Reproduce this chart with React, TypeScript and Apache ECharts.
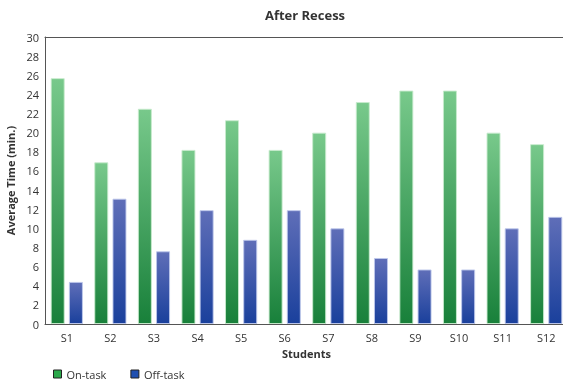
import React, { useEffect, useRef } from "react";
import * as echarts from "echarts";

const categories = ["S1", "S2", "S3", "S4", "S5", "S6", "S7", "S8", "S9", "S10", "S11", "S12"];
const onTask = [25.7, 16.9, 22.5, 18.2, 21.3, 18.2, 20.0, 23.2, 24.4, 24.4, 20.0, 18.8];
const offTask = [4.4, 13.1, 7.6, 11.9, 8.8, 11.9, 10.0, 6.9, 5.7, 5.7, 10.0, 11.2];
const yTicks = { min: 0, max: 30, interval: 2 };

const FONT = "'Open Sans', 'Noto Sans', sans-serif";

export default function App() {
  const ref = useRef<HTMLDivElement>(null);
  useEffect(() => {
    if (!ref.current) return;
    const chart = echarts.init(ref.current, null, { renderer: "svg" });
    const greenGrad = new echarts.graphic.LinearGradient(0, 0, 0, 1, [
      { offset: 0, color: "#78c98b" },
      { offset: 1, color: "#18803a" },
    ]);
    const blueGrad = new echarts.graphic.LinearGradient(0, 0, 0, 1, [
      { offset: 0, color: "#5f6eb8" },
      { offset: 1, color: "#1a409c" },
    ]);
    chart.setOption({
      animation: false,
      textStyle: { fontFamily: FONT },
      title: {
        text: "After Recess",
        left: 305,
        textAlign: "center",
        top: 8,
        padding: 0,
        textStyle: { fontSize: 13, fontWeight: "bold", color: "#333", fontFamily: FONT },
      },
      grid: {
        left: 45,
        top: 37,
        width: 523,
        height: 287,
        outerBoundsMode: "none",
        containLabel: false,
        show: false,
      },
      legend: {
        left: 53,
        top: 368,
        padding: 0,
        itemWidth: 8,
        itemHeight: 8,
        itemGap: 24,
        textStyle: { fontSize: 11, lineHeight: 12, color: "#333", fontFamily: FONT },
        data: [
          { name: "On-task", icon: "rect", itemStyle: { color: "#2aa84a", borderColor: "#222", borderWidth: 1 } },
          { name: "Off-task", icon: "rect", itemStyle: { color: "#1f4fb0", borderColor: "#222", borderWidth: 1 } },
        ],
      },
      xAxis: [
        {
          type: "category",
          data: categories,
          name: "Students",
          nameLocation: "middle",
          nameGap: 22,
          nameTextStyle: { fontSize: 11, fontWeight: "bold", color: "#333", fontFamily: FONT },
          axisLine: { show: true, lineStyle: { color: "#555" } },
          axisTick: { show: false },
          axisLabel: { fontSize: 11, color: "#333", margin: 8, fontFamily: FONT },
          splitLine: { show: false },
        },
        {
          type: "category",
          data: categories,
          position: "top",
          axisLine: { show: true, lineStyle: { color: "#555" } },
          axisTick: { show: false },
          axisLabel: { show: false },
          splitLine: { show: false },
        },
      ],
      yAxis: {
        type: "value",
        min: yTicks.min,
        max: yTicks.max,
        interval: yTicks.interval,
        name: "Average Time (min.)",
        nameLocation: "middle",
        nameGap: 22,
        nameRotate: 90,
        nameTextStyle: { fontSize: 11, fontWeight: "bold", color: "#333", fontFamily: FONT },
        axisLine: { show: true, lineStyle: { color: "#555" } },
        axisTick: { show: false },
        axisLabel: { fontSize: 11, color: "#333", margin: 6, fontFamily: FONT },
        splitLine: { show: false },
      },
      series: [
        {
          name: "On-task",
          type: "bar",
          xAxisIndex: 0,
          data: onTask,
          barWidth: 14,
          barGap: "30%",
          itemStyle: { color: greenGrad, borderColor: "rgba(200,235,205,0.9)", borderWidth: 1 },
        },
        {
          name: "Off-task",
          type: "bar",
          xAxisIndex: 0,
          data: offTask,
          barWidth: 14,
          barGap: "30%",
          itemStyle: { color: blueGrad, borderColor: "rgba(190,200,235,0.9)", borderWidth: 1 },
        },
      ],
    });
    return () => chart.dispose();
  }, []);
  return <div ref={ref} style={{ position: "fixed", left: 0, top: 0, width: 563, height: 380 }} />;
}
